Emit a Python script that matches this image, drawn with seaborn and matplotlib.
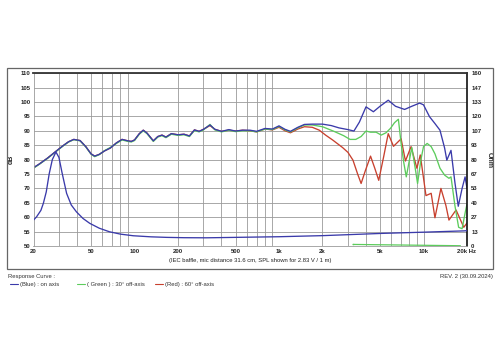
import numpy as np
import pandas as pd
import matplotlib
matplotlib.use("Agg")
import matplotlib.pyplot as plt
from matplotlib.patches import Rectangle
import seaborn as sns

# ---------------- data ----------------
on_f = [20, 22, 25, 28, 32, 35, 38, 42, 46, 50, 53, 57, 62, 68, 75, 82, 90, 95, 100,
        108, 115, 122, 135, 145, 155, 165, 180, 200, 220, 240, 260, 280, 300, 333,
        360, 400, 450, 500, 560, 630, 700, 800, 900, 1000, 1100, 1200, 1350, 1500,
        1700, 2000, 2300, 2600, 3000, 3300, 3600, 4000, 4500, 5000, 5700, 6400,
        7400, 8300, 9400, 10000, 11000, 12000, 13000, 14000, 14500, 15500, 16500,
        17400, 18500, 19400, 20000]
on_db = [77.2, 78.5, 80.5, 82.5, 84.8, 86.2, 87.0, 86.6, 84.5, 82.0, 81.2, 81.8, 83.0,
         84.0, 85.8, 87.0, 86.5, 86.3, 86.8, 89.0, 90.2, 89.2, 86.5, 88.0, 88.5, 87.8,
         89.0, 88.6, 88.8, 88.2, 90.3, 89.8, 90.5, 92.0, 90.5, 89.8, 90.4, 89.9, 90.2,
         90.2, 89.8, 90.8, 90.6, 91.7, 90.5, 89.8, 91.2, 92.2, 92.3, 92.3, 91.8, 91.0,
         90.4, 89.9, 93.0, 98.3, 96.6, 98.5, 100.6, 98.5, 97.4, 98.5, 99.6, 99.0, 94.9,
         92.5, 90.2, 84.0, 79.8, 83.2, 72.0, 63.8, 70.0, 74.0, 70.0]

g30_f = [20, 22, 25, 28, 32, 35, 38, 42, 46, 50, 53, 57, 62, 68, 75, 82, 90, 95, 100,
         108, 115, 122, 135, 145, 155, 165, 180, 200, 220, 240, 260, 280, 300, 333,
         360, 400, 450, 500, 560, 630, 700, 800, 900, 1000, 1100, 1200, 1350, 1500,
         1700, 2000, 2400, 2800, 3100, 3400, 3700, 4000, 4300, 4700, 5100, 5500, 5900,
         6300, 6700, 7000, 7300, 7600, 8000, 8300, 8700, 9100, 9600, 10000, 10600,
         11300, 12000, 13000, 14000, 15000, 15500, 16500, 17500, 18500, 19500, 20000]
g30_db = [77.0, 78.4, 80.4, 82.4, 84.7, 86.1, 86.9, 86.5, 84.4, 81.9, 81.0, 81.7, 83.1,
          84.2, 85.6, 86.8, 86.3, 86.1, 86.6, 88.8, 90.0, 89.0, 86.3, 87.8, 88.3, 87.6,
          88.8, 88.4, 88.6, 88.0, 90.1, 89.6, 90.3, 92.2, 90.3, 89.6, 90.2, 89.7, 90.0,
          90.0, 89.6, 90.6, 90.4, 91.5, 90.3, 89.6, 91.0, 92.0, 92.0, 91.4, 89.8, 88.3,
          87.0, 87.0, 88.0, 89.9, 89.5, 89.5, 88.5, 89.3, 90.8, 92.8, 94.0, 85.6, 79.0,
          74.0, 80.0, 84.2, 78.0, 71.7, 80.0, 84.5, 85.6, 84.5, 82.0, 77.0, 74.6, 73.5,
          74.0, 64.0, 56.5, 56.0, 62.0, 64.5]

r60_f = [20, 22, 25, 28, 32, 35, 38, 42, 46, 50, 53, 57, 62, 68, 75, 82, 90, 95, 100,
         108, 115, 122, 135, 145, 155, 165, 180, 200, 220, 240, 260, 280, 300, 333,
         360, 400, 450, 500, 560, 630, 700, 800, 900, 1000, 1100, 1200, 1350, 1500,
         1700, 1900, 2100, 2350, 2750, 3000, 3250, 3500, 3700, 3950, 4300, 4600, 4900,
         5300, 5700, 6200, 7000, 7500, 8200, 9000, 9500, 10400, 11300, 12000, 13200,
         14300, 15000, 16800, 19000, 20000]
r60_db = [77.1, 78.5, 80.5, 82.5, 84.8, 86.2, 87.0, 86.6, 84.5, 82.0, 81.2, 81.8, 83.0,
          84.0, 85.8, 87.0, 86.5, 86.3, 86.8, 89.0, 90.2, 89.2, 86.5, 88.0, 88.5, 87.8,
          89.0, 88.6, 88.8, 88.2, 90.3, 89.8, 90.5, 91.8, 90.5, 89.8, 90.2, 89.9, 90.2,
          90.0, 89.6, 90.6, 90.3, 91.2, 90.0, 89.3, 90.6, 91.4, 91.2, 90.2, 88.5, 86.8,
          84.2, 82.5, 79.8, 75.0, 71.7, 76.0, 81.2, 77.0, 72.8, 81.0, 89.0, 84.6, 87.2,
          79.5, 84.5, 77.0, 81.6, 67.5, 68.3, 59.8, 70.0, 64.0, 59.0, 62.5, 56.5, 58.0]

imp_f = [20, 21, 22.5, 23.4, 24.5, 25.7, 27, 28.6, 30, 31.5, 33.9, 36.5, 39.6, 44, 49,
         57, 67, 80, 98, 130, 167, 220, 314, 500, 1000, 2000, 5200, 10000, 19000, 20000]
imp_ohm = [24, 27, 33, 39.5, 50, 67, 80, 87, 82, 68, 48.7, 38, 31.7, 25.5, 21, 16.5,
           13.2, 11, 9.5, 8.5, 8.0, 7.7, 7.6, 8.0, 8.6, 9.6, 11.7, 12.8, 14.0, 14.2]

floor_f = [3250, 3250, 18000]
floor_db = [51.0, 50.1, 50.1]

x_ticks = [20, 50, 100, 200, 500, 1000, 2000, 5000, 10000, 20000]
x_labels = ["20", "50", "100", "200", "500", "1k", "2k", "5k", "10k", "20k Hz"]
y_ticks = list(range(50, 111, 5))
r_labels = ["0", "13", "27", "40", "53", "67", "80", "93", "107", "120", "133", "147", "160"]

BLUE = "#3a3aaa"
GREEN = "#5ccc5c"
RED = "#c8402e"

# ---------------- plot ----------------
sns.set_theme(style="white")
plt.rcParams["font.family"] = ["Liberation Sans", "DejaVu Sans"]

fig = plt.figure(figsize=(5.0, 3.55), dpi=100)
fig.patches.append(Rectangle((0.014, 0.242), 0.972, 0.566, transform=fig.transFigure,
                             fill=False, edgecolor="#666666", lw=0.9, zorder=0))

ax = fig.add_axes([0.067, 0.307, 0.867, 0.487])

df_r = pd.DataFrame({"f": r60_f, "v": r60_db})
df_g = pd.DataFrame({"f": g30_f, "v": g30_db})
df_b = pd.DataFrame({"f": on_f, "v": on_db})
df_fl = pd.DataFrame({"f": floor_f, "v": floor_db})

sns.lineplot(data=df_fl, x="f", y="v", ax=ax, color=GREEN, lw=0.9, sort=False)
sns.lineplot(data=df_r, x="f", y="v", ax=ax, color=RED, lw=0.95)
sns.lineplot(data=df_g, x="f", y="v", ax=ax, color=GREEN, lw=0.95)
sns.lineplot(data=df_b, x="f", y="v", ax=ax, color=BLUE, lw=0.95)

ax.set_xscale("log")
ax.set_xlim(20, 20000)
ax.set_ylim(50, 110)

grid_f = [f * m for m in (10, 100, 1000) for f in range(2, 10)] + [10000, 20000]
grid_f = [g for g in grid_f if 20 <= g <= 20000]
for g in grid_f:
    ax.axvline(g, color="#9a9a9a", lw=0.6, zorder=0)
for yv in y_ticks:
    ax.axhline(yv, color="#9a9a9a", lw=0.6, zorder=0)

ax.set_xticks(x_ticks)
ax.set_xticklabels(x_labels)
ax.xaxis.set_minor_locator(matplotlib.ticker.NullLocator())
ax.set_yticks(y_ticks)
ax.set_yticklabels([str(v) for v in y_ticks])
ax.tick_params(axis="both", length=0, labelsize=4.3, pad=2)
for lab in ax.get_xticklabels() + ax.get_yticklabels():
    lab.set_fontweight("bold")
ax.set_xlabel("")
ax.set_ylabel("dB", fontsize=5, fontweight="bold", labelpad=4)

for s in ("left", "bottom"):
    ax.spines[s].set_color("#9a9a9a")
    ax.spines[s].set_linewidth(0.6)
ax.spines["top"].set_color("#333333")
ax.spines["top"].set_linewidth(1.3)
ax.spines["right"].set_color("#111111")
ax.spines["right"].set_linewidth(1.2)

ax2 = ax.twinx()
df_i = pd.DataFrame({"f": imp_f, "v": imp_ohm})
sns.lineplot(data=df_i, x="f", y="v", ax=ax2, color=BLUE, lw=0.95)
ax2.set_ylim(0, 160)
ax2.set_yticks(np.linspace(0, 160, 13))
ax2.set_yticklabels(r_labels)
ax2.tick_params(axis="y", length=0, labelsize=4.3, pad=3)
for lab in ax2.get_yticklabels():
    lab.set_fontweight("bold")
ax2.set_ylabel("Ohm", fontsize=5, fontweight="bold", rotation=270, labelpad=8)
ax2.set_xlabel("")
for s in ax2.spines.values():
    s.set_visible(False)
ax2.grid(False)

fig.text(0.5, 0.265, "(IEC baffle, mic distance 31.6 cm, SPL shown for 2.83 V / 1 m)",
         ha="center", va="center", fontsize=4.2, color="#222222")
fig.text(0.016, 0.222, "Response Curve :", ha="left", va="center", fontsize=4.2, color="#333333")
fig.text(0.986, 0.222, "REV. 2 (30.09.2024)", ha="right", va="center", fontsize=4.2, color="#333333")

leg_y = 0.199
items = [(0.020, BLUE, "(Blue) : on axis"),
         (0.154, GREEN, "( Green ) : 30\u00b0 off-axis"),
         (0.310, RED, "(Red) : 60\u00b0 off-axis")]
for x0, c, t in items:
    fig.lines.append(matplotlib.lines.Line2D([x0, x0 + 0.016], [leg_y, leg_y],
                                             transform=fig.transFigure, color=c, lw=0.8))
    fig.text(x0 + 0.020, leg_y, t, ha="left", va="center", fontsize=4.2, color="#333333")

fig.savefig("out.png", dpi=100)
